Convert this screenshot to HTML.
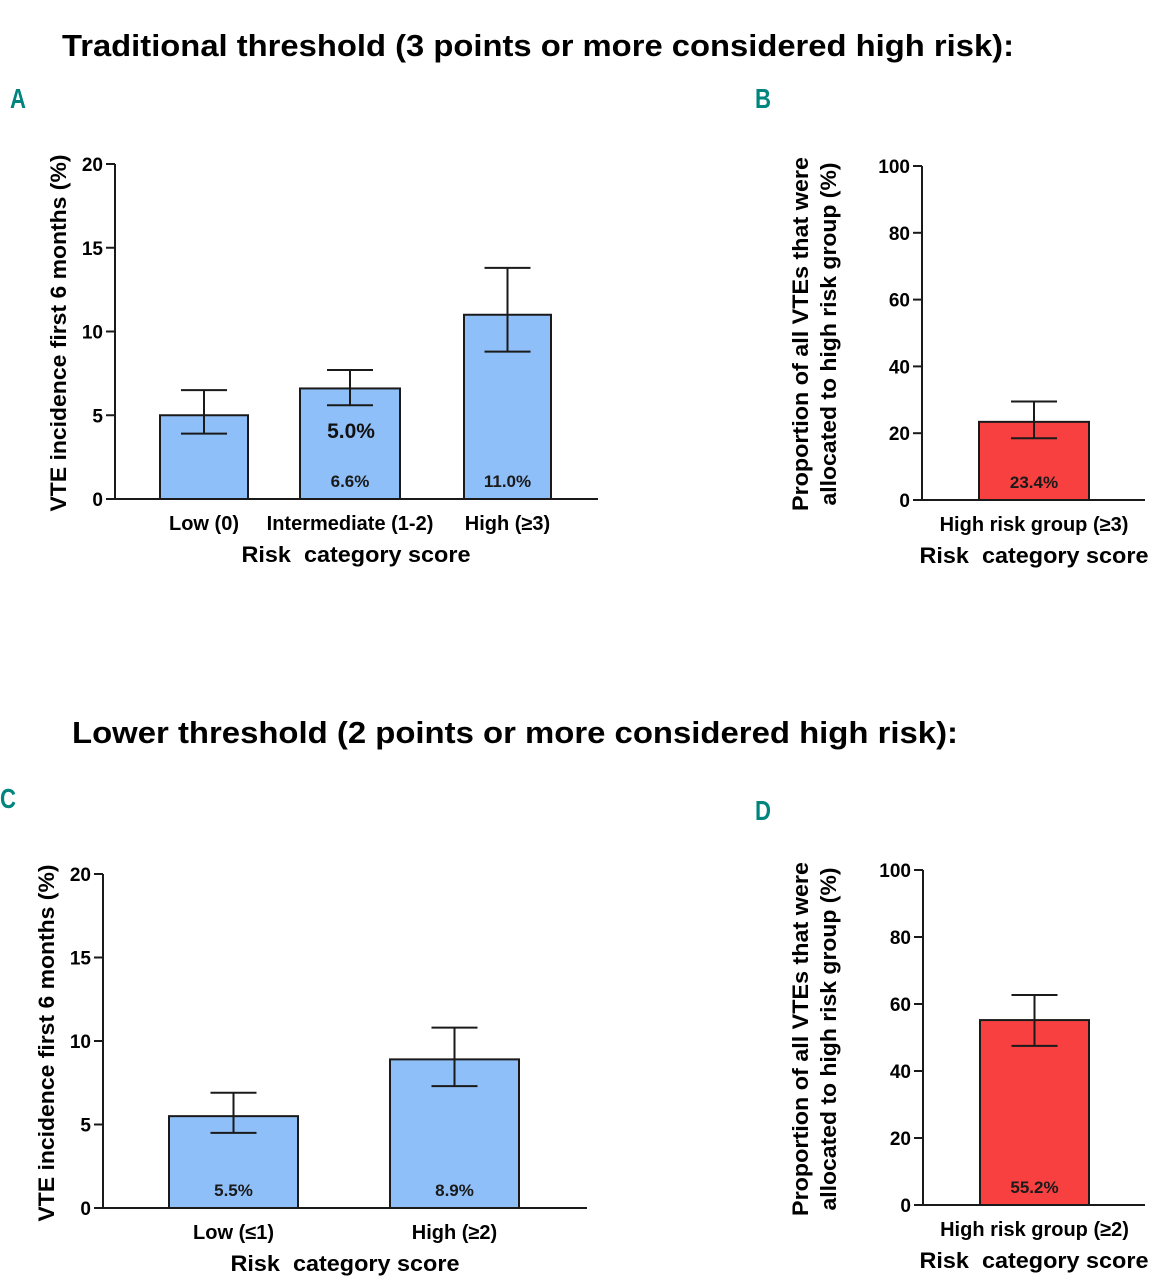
<!DOCTYPE html>
<html><head><meta charset="utf-8"><style>
html,body{margin:0;padding:0;background:#fff;}
svg{display:block;font-family:"Liberation Sans",sans-serif;font-weight:bold;}
</style></head><body>
<svg id="fig" width="1169" height="1280" viewBox="0 0 1169 1280">
<text x="62" y="56" font-size="31" textLength="952" lengthAdjust="spacingAndGlyphs">Traditional threshold (3 points or more considered high risk):</text>
<text x="72" y="743" font-size="31" textLength="886" lengthAdjust="spacingAndGlyphs">Lower threshold (2 points or more considered high risk):</text>
<g fill="#00847e" font-size="28">
<text x="10" y="108" textLength="16" lengthAdjust="spacingAndGlyphs">A</text>
<text x="755" y="108" textLength="16" lengthAdjust="spacingAndGlyphs">B</text>
<text x="0" y="808" textLength="16" lengthAdjust="spacingAndGlyphs">C</text>
<text x="755" y="820" textLength="16" lengthAdjust="spacingAndGlyphs">D</text>
</g>
</svg>
<script>
// Panel A
const catsA = ["Low (0)", "Intermediate (1-2)", "High (\u22653)"];
const valsA = [5.0, 6.6, 11.0];
const loA = [3.9, 5.6, 8.8];
const hiA = [6.5, 7.7, 13.8];
const labelsA = ["", "6.6%", "11.0%"];
const ticksA = [0, 5, 10, 15, 20];
// Panel B
const catsB = ["High risk group (\u22653)"];
const valsB = [23.4];
const loB = [18.5];
const hiB = [29.5];
const labelsB = ["23.4%"];
const ticksB = [0, 20, 40, 60, 80, 100];
// Panel C
const catsC = ["Low (\u22641)", "High (\u22652)"];
const valsC = [5.5, 8.9];
const loC = [4.5, 7.3];
const hiC = [6.9, 10.8];
const labelsC = ["5.5%", "8.9%"];
const ticksC = [0, 5, 10, 15, 20];
// Panel D
const catsD = ["High risk group (\u22652)"];
const valsD = [55.2];
const loD = [47.5];
const hiD = [62.7];
const labelsD = ["55.2%"];
const ticksD = [0, 20, 40, 60, 80, 100];

const NS = "http://www.w3.org/2000/svg";
const svg = document.getElementById('fig');
function mk(tag, attrs, parent) {
  const e = document.createElementNS(NS, tag);
  for (const k in attrs) e.setAttribute(k, attrs[k]);
  parent.appendChild(e);
  return e;
}
function panel(cfg) {
  const g = mk('g', {}, svg);
  
  
  const ymax = cfg.ticks[cfg.ticks.length - 1];
  const y = v => cfg.y0 - (v / ymax) * (cfg.y0 - cfg.yTop);
  cfg.vals.forEach((v, i) => {
    const [l, r] = cfg.barX[i];
    const cx = (l + r) / 2;
    const b = mk('rect', {x: l, y: y(v), width: r - l, height: cfg.y0 - y(v), fill: cfg.fill, stroke: '#1a1a1a', 'stroke-width': 2}, g);
    
    
    const e = mk('path', {d: `M${cx},${y(cfg.lo[i])}V${y(cfg.hi[i])}M${cx-23},${y(cfg.hi[i])}H${cx+23}M${cx-23},${y(cfg.lo[i])}H${cx+23}`, stroke: '#1a1a1a', 'stroke-width': 2, fill: 'none'}, g);
    
    
    if (cfg.labels[i]) {
      const t = mk('text', {x: cx, y: cfg.y0 - 12, 'font-size': 17, 'text-anchor': 'middle', fill: '#1a1a1a'}, g);
      t.textContent = cfg.labels[i];
      
      
    }
    const c = mk('text', {x: cx, y: cfg.y0 + 31, 'font-size': 20, 'text-anchor': 'middle'}, g);
    c.textContent = cfg.cats[i];
    
    
  });
  const ax = mk('path', {d: `M${cfg.ax},${cfg.yTop}V${cfg.y0}H${cfg.axEnd}`, stroke: '#1a1a1a', 'stroke-width': 2, fill: 'none'}, g);
  
  
  cfg.ticks.forEach(tv => {
    const tk = mk('path', {d: `M${cfg.ax-9},${y(tv)}H${cfg.ax}`, stroke: '#1a1a1a', 'stroke-width': 2}, g);
    
    
    const tl = mk('text', {x: cfg.ax - 12, y: y(tv) + 7, 'font-size': 19, 'text-anchor': 'end'}, g);
    tl.textContent = tv;
    
    
  });
  const xt = mk('text', {x: cfg.xtX, y: cfg.y0 + 63, 'font-size': 22, 'text-anchor': 'middle', textLength: 229, lengthAdjust: 'spacingAndGlyphs', style: 'white-space:pre'}, g);
  xt.textContent = 'Risk  category score';
  
  
  cfg.ytitle.forEach((line, k) => {
    const tx = cfg.ytX[k];
    const t = mk('text', {x: tx, y: cfg.ytY, 'font-size': 22, 'text-anchor': 'middle', textLength: cfg.ytLen[k], lengthAdjust: 'spacingAndGlyphs', transform: `rotate(-90 ${tx} ${cfg.ytY})`}, g);
    t.textContent = line;
    
    
  });
}
const blue = '#8fbff8', red = '#f84040';
panel({name:'panel-a', cats:catsA, vals:valsA, lo:loA, hi:hiA, labels:labelsA, ticks:ticksA, y0:499, yTop:164, ax:115, axEnd:598, barX:[[160,248],[300,400],[464,551]], fill:blue, xtX:356, ytitle:['VTE incidence first 6 months (%)'], ytX:[66], ytY:333, ytLen:[357]});
panel({name:'panel-b', cats:catsB, vals:valsB, lo:loB, hi:hiB, labels:labelsB, ticks:ticksB, y0:500, yTop:166, ax:922, axEnd:1145, barX:[[979,1089]], fill:red, xtX:1034, ytitle:['Proportion of all VTEs that were','allocated to high risk group (%)'], ytX:[808,836], ytY:334, ytLen:[354,343]});
panel({name:'panel-c', cats:catsC, vals:valsC, lo:loC, hi:hiC, labels:labelsC, ticks:ticksC, y0:1208, yTop:874, ax:103, axEnd:587, barX:[[169,298],[390,519]], fill:blue, xtX:345, ytitle:['VTE incidence first 6 months (%)'], ytX:[54], ytY:1043, ytLen:[357]});
panel({name:'panel-d', cats:catsD, vals:valsD, lo:loD, hi:hiD, labels:labelsD, ticks:ticksD, y0:1205, yTop:870, ax:923, axEnd:1145, barX:[[980,1089]], fill:red, xtX:1034, ytitle:['Proportion of all VTEs that were','allocated to high risk group (%)'], ytX:[808,836], ytY:1039, ytLen:[354,343]});
const stray = mk('text', {x: 351, y: 438, 'font-size': 21, 'text-anchor': 'middle', fill: '#111'}, svg);
stray.textContent = '5.0%';


</script>
</body></html>
